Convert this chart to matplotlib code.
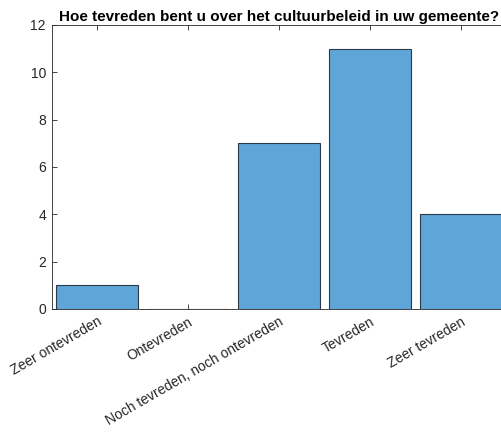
import matplotlib
matplotlib.use("Agg")
import matplotlib.pyplot as plt

categories = ["Zeer ontevreden", "Ontevreden", "Noch tevreden, noch ontevreden", "Tevreden", "Zeer tevreden"]
values = [1, 0, 7, 11, 4]
yticks = [0, 2, 4, 6, 8, 10, 12]
title = "Hoe tevreden bent u over het cultuurbeleid in uw gemeente?"

plt.rcParams['font.family'] = ['Liberation Sans', 'DejaVu Sans']
axc = '#262626'

fig = plt.figure(figsize=(5.02, 4.32), dpi=100)
ax = fig.add_axes([51.5/502, (432-309)/432, (506.5-51.5)/502, (309-25)/432])
x = list(range(1, len(categories)+1))
ax.bar(x, values, width=0.9, color='#5fa5d8', edgecolor='#2a3a48', linewidth=0.8, zorder=2)
ax.set_xlim(0.5, 5.5)
ax.set_ylim(0, 12)
ax.set_yticks(yticks)
ax.set_xticks(x)
ax.set_xticklabels(categories, rotation=30, ha='right', va='top', rotation_mode='anchor', fontsize=10, color=axc)
ax.tick_params(axis='both', direction='in', top=True, right=True, length=3.5, width=0.6, colors=axc, labelsize=10, pad=4)
for lab in ax.get_xticklabels():
    lab.set_color(axc)
for s in ax.spines.values():
    s.set_color(axc)
    s.set_linewidth(0.6)
ax.set_title(title, fontsize=11, fontweight='bold', color='black', pad=3)
fig.savefig('out.png', dpi=100)
